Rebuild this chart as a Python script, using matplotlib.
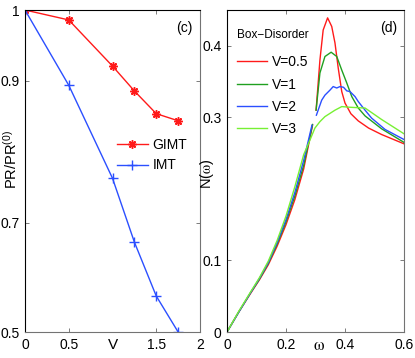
import numpy as np
import matplotlib
matplotlib.use('Agg')
import matplotlib.pyplot as plt
from matplotlib.ticker import FixedLocator

plt.rcParams['font.family'] = ['Liberation Sans', 'DejaVu Sans']
plt.rcParams['mathtext.fontset'] = 'stix'
plt.rcParams['font.size'] = 10

# ---- panel (c) data ----
V = [0, 0.5, 1, 1.25, 1.5, 1.75]
gimt = [1.0, 0.986, 0.921, 0.886, 0.854, 0.844]
imt = [1.0, 0.894, 0.763, 0.665, 0.566, 0.5]
c_yticks = [0.5, 0.7, 0.9, 1.0]
c_ypos = [0, 109, 251, 322]   # uneven spacing of the y ticks in the original

# ---- panel (d) data ----
w_red = [0, 0.04, 0.08, 0.11, 0.14, 0.17, 0.2, 0.23, 0.26, 0.29, np.nan,
         0.302, 0.315, 0.326, 0.341, 0.355, 0.366, 0.377, 0.389, 0.40, 0.42, 0.445,
         0.48, 0.524, 0.6]
n_red = [0, 0.028, 0.054, 0.073, 0.094, 0.12, 0.15, 0.185, 0.228, 0.289, np.nan,
         0.31, 0.38, 0.422, 0.439, 0.427, 0.404, 0.369, 0.336, 0.32, 0.305, 0.295,
         0.285, 0.276, 0.263]
w_grn = [0, 0.04, 0.08, 0.11, 0.14, 0.17, 0.2, 0.23, 0.26, 0.29, np.nan,
         0.302, 0.315, 0.332, 0.353, 0.372, 0.389, 0.406, 0.423, 0.445, 0.468, 0.524, 0.6]
n_grn = [0, 0.028, 0.055, 0.074, 0.096, 0.123, 0.154, 0.19, 0.233, 0.29, np.nan,
         0.31, 0.362, 0.385, 0.391, 0.385, 0.366, 0.348, 0.329, 0.313, 0.302, 0.284, 0.265]
w_blu = [0, 0.04, 0.08, 0.11, 0.14, 0.17, 0.2, 0.23, 0.26, 0.288, np.nan,
         0.303, 0.321, 0.332, 0.349, 0.36, 0.372, 0.383, 0.395, 0.406, 0.417,
         0.434, 0.445, 0.468, 0.49, 0.536, 0.6]
n_blu = [0, 0.028, 0.055, 0.075, 0.097, 0.125, 0.157, 0.195, 0.24, 0.289, np.nan,
         0.303, 0.324, 0.331, 0.338, 0.343, 0.341, 0.343, 0.342, 0.337, 0.336,
         0.329, 0.322, 0.31, 0.299, 0.283, 0.269]
w_lgr = [0, 0.04, 0.08, 0.11, 0.14, 0.17, 0.2, 0.23, 0.26, 0.281, 0.298, 0.315, 0.332,
         0.366, 0.389, 0.42, 0.468, 0.524, 0.6]
n_lgr = [0, 0.029, 0.056, 0.076, 0.099, 0.128, 0.162, 0.203, 0.248, 0.268, 0.285, 0.294,
         0.301, 0.31, 0.315, 0.314, 0.313, 0.297, 0.277]

# piecewise linear scale for panel (c)
ext_v = [0.5 - 10] + c_yticks + [1.0 + 10]
ext_p = [-10 * (109 / 0.2)] + c_ypos + [322 + 10 * (71 / 0.1)]


def fwd(v):
    return np.interp(np.asarray(v, float), ext_v, ext_p)


def inv(p):
    return np.interp(np.asarray(p, float), ext_p, ext_v)


fig = plt.figure(figsize=(4.15, 3.58), dpi=100)
ax1 = fig.add_axes([25 / 415, 26 / 358, 175 / 415, 322 / 358])
ax2 = fig.add_axes([227 / 415, 26 / 358, 177 / 415, 322 / 358])

"----------Grafica c---------"
ax1.set_yscale('function', functions=(fwd, inv))
ax1.plot(V, gimt, color='#ff1a1a', marker=(8, 2, 0), ms=6, mew=1.1, lw=1, label='GIMT')
ax1.plot(V, imt, color='#2b4fff', marker='+', ms=7, mew=1, lw=1, label='IMT')
ax1.set_xlim(0, 2)
ax1.set_ylim(0.5, 1)
ax1.set_xticks([0, 0.5, 1.5, 2])
ax1.set_xticklabels(['0', '0.5', '1.5', '2'])
ax1.yaxis.set_major_locator(FixedLocator(c_yticks))
ax1.set_yticklabels(['0.5', '0.7', '0.9', '1'])
ax1.yaxis.set_minor_locator(FixedLocator([]))
ax1.text(0.5, -0.018, 'V', transform=ax1.transAxes, ha='center', va='top', fontsize=11)
ax1.set_ylabel(r'PR/PR$^{\mathregular{(0)}}$', fontsize=10.5)
ax1.yaxis.set_label_coords(-0.03, 0.535)
ax1.text(0.955, 0.965, '(c)', transform=ax1.transAxes, ha='right', va='top')
ax1.legend(loc='upper left', bbox_to_anchor=(0.526, 0.602), frameon=False,
           borderaxespad=0, borderpad=0, handlelength=2.2, handletextpad=0.35,
           labelspacing=0.45, fontsize=10)

"----------Grafica d---------"
ax2.plot(w_red, n_red, color='#ff1a1a', lw=1, label='V=0.5')
ax2.plot(w_grn, n_grn, color='#20a020', lw=1, label='V=1')
ax2.plot(w_blu, n_blu, color='#2b4fff', lw=1, label='V=2')
ax2.plot(w_lgr, n_lgr, color='#77f033', lw=1, label='V=3')
ax2.set_xlim(0, 0.6)
ax2.set_ylim(0, 0.45)
ax2.set_xticks([0, 0.2, 0.4, 0.6])
ax2.set_xticklabels(['0', '0.2', '0.4', '0.6'])
ax2.set_yticks([0, 0.1, 0.3, 0.4])
ax2.set_yticklabels(['0', '0.1', '0.3', '0.4'])
ax2.text(0.52, -0.018, r'$\mathrm{\omega}$', transform=ax2.transAxes, ha='center', va='top', fontsize=12)
ax2.set_ylabel(r'N($\mathrm{\omega}$)', fontsize=10.5)
ax2.yaxis.set_label_coords(-0.062, 0.49)
ax2.text(0.96, 0.965, '(d)', transform=ax2.transAxes, ha='right', va='top')
leg = ax2.legend(loc='upper left', bbox_to_anchor=(0.056, 0.94), frameon=False,
                 borderaxespad=0, borderpad=0, handlelength=2.2, handletextpad=0.35,
                 labelspacing=0.6, fontsize=10, title='Box\u2212Disorder',
                 title_fontsize=8.5)
leg._legend_box.sep = 10

for ax in (ax1, ax2):
    ax.tick_params(direction='in', length=3, width=0.6, top=True, right=True, pad=4,
                   labelsize=10, color='0.4')
    for s in ('left', 'top'):
        ax.spines[s].set_color('black')
    for s in ('right', 'bottom'):
        ax.spines[s].set_color('0.45')
    for s in ax.spines.values():
        s.set_linewidth(0.8)

fig.savefig('out.png', dpi=100)
